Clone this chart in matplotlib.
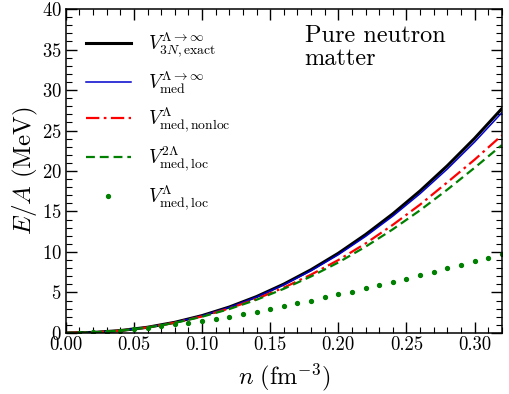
import numpy as np
import matplotlib
matplotlib.use("Agg")
import matplotlib.pyplot as plt
from matplotlib.ticker import MultipleLocator

plt.rcParams['font.family'] = 'serif'
plt.rcParams['font.serif'] = ['cmr10', 'DejaVu Serif']
plt.rcParams['mathtext.fontset'] = 'cm'
plt.rcParams['axes.formatter.use_mathtext'] = True

# densities (fm^-3) for the curves
n_line = [0.00, 0.02, 0.04, 0.06, 0.08, 0.10, 0.12, 0.14, 0.16,
          0.18, 0.20, 0.22, 0.24, 0.26, 0.28, 0.30, 0.32]
e_exact = [0.0, 0.06, 0.29, 0.70, 1.31, 2.14, 3.20, 4.49, 6.03,
           7.81, 9.84, 12.15, 14.71, 17.54, 20.65, 24.03, 27.7]
e_med = [0.0, 0.06, 0.29, 0.69, 1.30, 2.12, 3.16, 4.43, 5.94,
         7.68, 9.66, 11.92, 14.43, 17.20, 20.25, 23.58, 27.2]
e_nonloc = [0.0, 0.06, 0.28, 0.68, 1.26, 2.04, 3.02, 4.21, 5.60,
            7.20, 9.00, 11.05, 13.35, 15.85, 18.60, 21.40, 24.4]
e_loc2 = [0.0, 0.06, 0.28, 0.67, 1.24, 2.00, 2.95, 4.10, 5.45,
          6.98, 8.70, 10.65, 12.80, 15.15, 17.70, 20.40, 23.2]

# dotted series
n_dot = [0.01, 0.02, 0.03, 0.04, 0.05, 0.06, 0.07, 0.08, 0.09, 0.10,
         0.11, 0.12, 0.13, 0.14, 0.15, 0.16, 0.17, 0.18, 0.19, 0.20,
         0.21, 0.22, 0.23, 0.24, 0.25, 0.26, 0.27, 0.28, 0.29, 0.30,
         0.31, 0.32]
e_loc = [0.02, 0.06, 0.15, 0.30, 0.45, 0.65, 0.86, 1.07, 1.27, 1.47,
         1.75, 2.00, 2.30, 2.60, 2.95, 3.30, 3.65, 4.00, 4.40, 4.75,
         5.10, 5.50, 5.90, 6.30, 6.70, 7.10, 7.55, 8.00, 8.40, 8.85,
         9.30, 9.80]

labels = [r'$V_{3N,\mathrm{exact}}^{\Lambda\to\infty}$',
          r'$V_{\mathrm{med}}^{\Lambda\to\infty}$',
          r'$V_{\mathrm{med,nonloc}}^{\Lambda}$',
          r'$V_{\mathrm{med,loc}}^{2\Lambda}$',
          r'$V_{\mathrm{med,loc}}^{\Lambda}$']

fig = plt.figure(figsize=(5.1, 3.94), dpi=100)
ax = fig.add_axes([0.129, 0.155, 0.855, 0.822])

ax.plot(n_line, e_exact, color='black', lw=2.2, label=labels[0])
ax.plot(n_line, e_med, color='#0000cc', lw=1.1, label=labels[1])
ax.plot(n_line, e_nonloc, color='red', lw=1.6, dashes=(6, 2, 1.2, 2), label=labels[2])
ax.plot(n_line, e_loc2, color='green', lw=1.6, dashes=(4, 2.2), label=labels[3])
ax.plot(n_dot, e_loc, 'o', color='green', ms=2.8, ls='none', label=labels[4])

ax.set_xlim(0, 0.32)
ax.set_ylim(0, 40)
ax.xaxis.set_major_locator(MultipleLocator(0.05))
ax.xaxis.set_minor_locator(MultipleLocator(0.01))
ax.yaxis.set_major_locator(MultipleLocator(5))
ax.yaxis.set_minor_locator(MultipleLocator(1))
ax.xaxis.set_major_formatter(matplotlib.ticker.FormatStrFormatter('%.2f'))
ax.tick_params(which='both', direction='in', top=True, right=True, labelsize=13.5)
ax.tick_params(which='major', length=8, width=1)
ax.tick_params(which='minor', length=4.5, width=0.8)
ax.tick_params(axis='x', which='major', pad=2)
ax.tick_params(axis='y', which='major', pad=3)
for s in ax.spines.values():
    s.set_linewidth(1.1)

ax.set_xlabel(r'$n\ (\mathrm{fm}^{-3})$', fontsize=17.5, labelpad=6)
ax.set_ylabel(r'$E/A\ (\mathrm{MeV})$', fontsize=18, labelpad=1)

ax.text(0.548, 0.95, 'Pure neutron\nmatter', transform=ax.transAxes,
        fontsize=17.5, va='top', ha='left', linespacing=1.0)

ax.legend(loc='upper left', bbox_to_anchor=(0.015, 0.975), frameon=False,
          fontsize=14, handlelength=2.3, labelspacing=0.52, numpoints=1,
          handletextpad=0.9, borderaxespad=0.3)

fig.savefig('out.png', dpi=100)
